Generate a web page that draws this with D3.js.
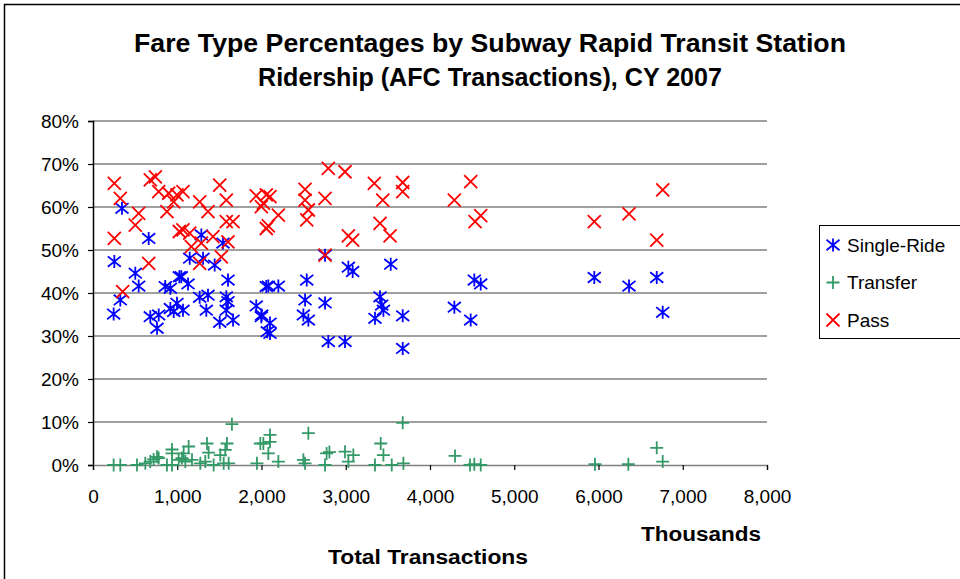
<!DOCTYPE html>
<html>
<head>
<meta charset="utf-8">
<script src="https://cdn.jsdelivr.net/npm/d3@7"></script>
<style>
  body { margin: 0; background: #fff; }
  text { font-family: "Liberation Sans", Arial, sans-serif; fill: #000; }
</style>
</head>
<body>
<svg id="chart" width="960" height="579"></svg>
<script>
// values: [total transactions (thousands), share %]
var singleRide = [
  [344, 59.7], [661, 52.7], [253, 47.3], [502, 44.6], [542, 41.6], [324, 38.4], [245, 35.1],
  [680, 34.5], [780, 34.9], [760, 31.8], [858, 41.5], [918, 41.1], [918, 36.4], [997, 37.6],
  [958, 35.7], [1025, 43.8],
  [1286, 53.5], [1543, 51.6], [1148, 48.1], [1306, 48.1], [1444, 46.5], [1048, 43.8], [1128, 42.1],
  [1602, 43.0], [2057, 41.5], [1266, 39.0], [1365, 39.5], [1582, 39.1], [1602, 38.0], [1068, 36.0],
  [1345, 36.0], [1582, 36.0], [1938, 37.0], [1504, 33.2], [1662, 33.7], [1998, 34.5], [2069, 31.0],
  [2754, 48.8], [3031, 46.0], [3082, 45.0], [3534, 46.7], [2081, 41.6], [2200, 41.6], [2537, 43.0],
  [2517, 38.4], [2754, 37.7], [3407, 39.1], [3427, 37.2], [3447, 36.0], [3347, 34.1], [3676, 34.7],
  [2497, 34.9], [2556, 33.7], [2002, 34.9], [2101, 33.0], [2101, 30.6], [2793, 28.7], [2991, 28.7],
  [3676, 27.1],
  [4526, 43.0], [4602, 42.1], [4289, 36.7], [4483, 33.7], [5950, 43.6], [6362, 41.6], [6691, 43.6],
  [6762, 35.5]
];

var transfer = [
  [245, 0], [324, 0], [522, 0], [621, 0.4], [680, 0.8], [720, 1.3], [780, 1.6], [760, 1.9],
  [878, 0], [938, 0], [938, 2.7], [938, 3.6], [1017, 1.2], [1056, 1.6], [1096, 0.8], [1135, 4.3],
  [1076, 2.7], [1175, 1.2], [1274, 0.4], [1353, 5.0], [1372, 2.9], [1333, 0.8], [1432, 0],
  [1511, 2.3], [1551, 0.4], [1590, 5.0], [1570, 3.5], [1610, 0.4], [1649, 9.5], [1946, 0.4],
  [1986, 5.0], [2022, 5.0], [2101, 7.0], [2101, 5.4], [2081, 2.7], [2200, 0.8], [2556, 7.4],
  [2497, 1.2], [2517, 0.4], [2754, 0], [2773, 2.7], [2806, 3.0], [2991, 3.1], [3031, 0.8],
  [3090, 2.3], [3347, 0], [3415, 5.0], [3447, 2.3], [3546, 0], [3676, 9.8], [3684, 0.4],
  [4297, 2.1], [4475, 0], [4526, 0.2], [4602, 0], [5958, 0.2], [6354, 0.2], [6691, 4.0], [6762, 0.8]
];

var pass = [
  [253, 65.5], [324, 62.0], [680, 66.3], [740, 67.0], [780, 63.6], [898, 63.2], [958, 61.2],
  [878, 58.9], [542, 58.5], [502, 55.8], [253, 52.7], [661, 46.9], [352, 40.3], [1025, 54.3],
  [997, 62.8],
  [1504, 65.1], [1068, 63.6], [1938, 62.6], [2057, 62.8], [1582, 61.6], [1266, 61.2], [1365, 58.9],
  [1998, 60.1], [1582, 56.6], [1662, 56.6], [2057, 55.0], [1068, 54.7], [1148, 53.9], [1424, 53.1],
  [1602, 51.9], [1167, 50.8], [1286, 51.6], [1523, 48.4], [1266, 46.9],
  [2793, 69.0], [2991, 68.2], [3339, 65.5], [3676, 65.7], [3676, 63.6], [3439, 61.6], [2517, 64.1],
  [2517, 61.6], [2754, 62.0], [2556, 59.3], [2537, 57.0], [2101, 62.4], [2022, 60.9], [2081, 55.6],
  [2200, 58.1], [3407, 56.2], [3526, 53.3], [3031, 53.3], [3082, 52.3], [2754, 48.8],
  [4483, 65.9], [4289, 61.6], [4602, 58.0], [4535, 56.6], [5950, 56.6], [6362, 58.4], [6762, 64.0],
  [6691, 52.3]
];

var xTicks = [0, 1000, 2000, 3000, 4000, 5000, 6000, 7000, 8000];
var yTicks = [0, 10, 20, 30, 40, 50, 60, 70, 80];
var seriesNames = ["Single-Ride", "Transfer", "Pass"];
var seriesColors = ["#0000FF", "#339966", "#FF0000"];
var seriesShapes = ["star", "plus", "cross"];

var svg = d3.select("#chart");

// outer frame
svg.append("rect")
  .attr("x", 4.5).attr("y", 4.5)
  .attr("width", 970).attr("height", 590)
  .attr("fill", "none").attr("stroke", "#000").attr("stroke-width", 1.5);

var x = d3.scaleLinear().domain([0, 8000]).range([93, 767]);
var y = d3.scaleLinear().domain([0, 80]).range([465, 121]);

// gridlines
svg.append("g").selectAll("line")
  .data(yTicks.filter(function(d) { return d > 0; }))
  .enter().append("line")
    .attr("x1", x(0)).attr("x2", x(8000))
    .attr("y1", function(d) { return y(d); })
    .attr("y2", function(d) { return y(d); })
    .attr("stroke", "#808080").attr("stroke-width", 1.5);

// axes
var yAxis = svg.append("g")
  .attr("transform", "translate(" + x(0) + ",0)")
  .call(d3.axisLeft(y).tickValues(yTicks).tickSize(5).tickPadding(9)
    .tickFormat(function(d) { return d + "%"; }));

var xAxis = svg.append("g")
  .attr("transform", "translate(0," + y(0) + ")")
  .call(d3.axisBottom(x).tickValues(xTicks).tickSize(5).tickPadding(20)
    .tickFormat(d3.format(",")));

yAxis.select(".domain").attr("stroke", "#000").attr("stroke-width", 1.5);
xAxis.select(".domain").attr("stroke", "#808080").attr("stroke-width", 1.5);
svg.selectAll(".tick line").attr("stroke", "#000").attr("stroke-width", 1.2);
svg.selectAll(".tick text")
  .attr("font-family", "Liberation Sans, Arial, sans-serif")
  .attr("font-size", 19).attr("fill", "#000");

// marker shapes
function markerPath(shape, r) {
  if (shape === "plus") return "M" + (-r) + ",0H" + r + "M0," + (-r) + "V" + r;
  if (shape === "cross") return "M" + (-r) + "," + (-r) + "L" + r + "," + r + "M" + (-r) + "," + r + "L" + r + "," + (-r);
  // star = cross plus vertical bar
  return "M" + (-r) + "," + (-r * 0.8) + "L" + r + "," + (r * 0.8) +
         "M" + (-r) + "," + (r * 0.8) + "L" + r + "," + (-r * 0.8) +
         "M0," + (-r) + "V" + r;
}

var allSeries = [singleRide, transfer, pass];
// draw in order Single-Ride, Transfer, Pass so pass sits on top
allSeries.forEach(function(data, i) {
  svg.append("g").selectAll("path")
    .data(data)
    .enter().append("path")
      .attr("transform", function(d) { return "translate(" + x(d[0]) + "," + y(d[1]) + ")"; })
      .attr("d", markerPath(seriesShapes[i], 6.5))
      .attr("fill", "none")
      .attr("stroke", seriesColors[i])
      .attr("stroke-width", 1.8);
});

// title (the original font is condensed, so stretch to its measured widths)
var title = svg.append("text")
  .attr("text-anchor", "middle")
  .attr("font-size", 26).attr("font-weight", "bold");
title.append("tspan").attr("x", 490).attr("y", 52)
  .attr("textLength", 712).attr("lengthAdjust", "spacingAndGlyphs")
  .text("Fare Type Percentages by Subway Rapid Transit Station");
title.append("tspan").attr("x", 490).attr("y", 86)
  .attr("textLength", 464).attr("lengthAdjust", "spacingAndGlyphs")
  .text("Ridership (AFC Transactions), CY 2007");

// axis titles
svg.append("text")
  .attr("x", 701).attr("y", 541)
  .attr("text-anchor", "middle")
  .attr("font-size", 20).attr("font-weight", "bold")
  .attr("textLength", 120).attr("lengthAdjust", "spacingAndGlyphs")
  .text("Thousands");

svg.append("text")
  .attr("x", 428).attr("y", 564)
  .attr("text-anchor", "middle")
  .attr("font-size", 20).attr("font-weight", "bold")
  .attr("textLength", 200).attr("lengthAdjust", "spacingAndGlyphs")
  .text("Total Transactions");

// legend
var legend = svg.append("g");
legend.append("rect")
  .attr("x", 819.5).attr("y", 225.5)
  .attr("width", 160).attr("height", 113)
  .attr("fill", "#fff").attr("stroke", "#000").attr("stroke-width", 1);

seriesNames.forEach(function(name, i) {
  var ly = 245 + i * 37.5;
  legend.append("path")
    .attr("transform", "translate(833," + ly + ")")
    .attr("d", markerPath(seriesShapes[i], 6.5))
    .attr("fill", "none")
    .attr("stroke", seriesColors[i])
    .attr("stroke-width", 1.8);
  legend.append("text")
    .attr("x", 847).attr("y", ly + 6.5)
    .attr("font-size", 19)
    .text(name);
});
</script>
</body>
</html>
